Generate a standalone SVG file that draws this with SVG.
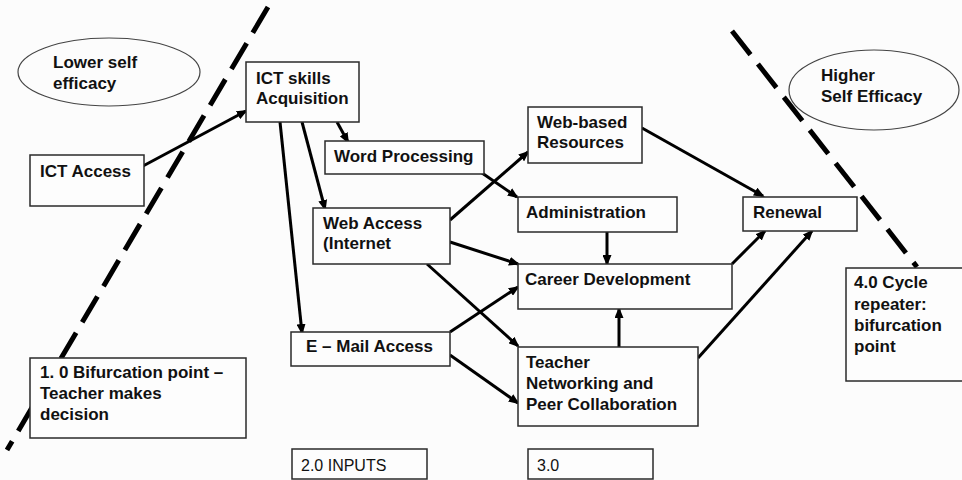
<svg xmlns="http://www.w3.org/2000/svg" width="962" height="480" viewBox="0 0 962 480">
<style>
.bg{fill:#fcfcfc}
.box{fill:#fdfdfd;stroke:#2a2a2a;stroke-width:1.5}
.ell{fill:none;stroke:#444;stroke-width:1.2}
.t{font-family:"Liberation Sans",Arial,sans-serif;font-size:17px;font-weight:bold;fill:#111}
.r{font-family:"Liberation Sans",Arial,sans-serif;font-size:16px;fill:#111}
.dash{stroke:#000;stroke-width:5;stroke-dasharray:30 12;fill:none}
.ar{stroke:#000;stroke-width:3;fill:none;marker-end:url(#ah)}
</style>
<defs>
<marker id="ah" markerWidth="11" markerHeight="9" refX="9" refY="4.5" orient="auto" markerUnits="userSpaceOnUse">
<path d="M0,0 L11,4.5 L0,9 z" fill="#000"/>
</marker>
</defs>
<rect class="bg" x="0" y="0" width="962" height="480"/>
<g id="dividers">
<line class="dash" x1="268" y1="7" x2="7" y2="450"/>
<line class="dash" x1="732" y1="31" x2="917" y2="267"/>
</g>
<g id="lower-self-efficacy">
<ellipse class="ell" cx="109" cy="72" rx="91" ry="34"/>
<text class="t" x="53" y="68">Lower self</text>
<text class="t" x="53" y="89">efficacy</text>
</g>
<g id="higher-self-efficacy">
<ellipse class="ell" cx="874" cy="90" rx="85" ry="40"/>
<text class="t" x="821" y="81">Higher</text>
<text class="t" x="821" y="102">Self Efficacy</text>
</g>
<g id="connectors">
<line class="ar" x1="143" y1="166" x2="246" y2="111"/>
<line class="ar" x1="337" y1="122" x2="348" y2="142"/>
<line class="ar" x1="302" y1="122" x2="325" y2="209"/>
<line class="ar" x1="280" y1="122" x2="302" y2="333"/>
<line class="ar" x1="482" y1="173" x2="517" y2="197"/>
<line class="ar" x1="450" y1="220" x2="528" y2="152"/>
<line class="ar" x1="450" y1="242" x2="518" y2="264"/>
<line class="ar" x1="427" y1="264" x2="518" y2="346"/>
<line class="ar" x1="607" y1="232" x2="607" y2="264"/>
<line class="ar" x1="450" y1="332" x2="518" y2="287"/>
<line class="ar" x1="450" y1="355" x2="518" y2="403"/>
<line class="ar" x1="619" y1="347" x2="619" y2="309"/>
<line class="ar" x1="698" y1="358" x2="812" y2="231"/>
<line class="ar" x1="732" y1="264" x2="765" y2="231"/>
<line class="ar" x1="642" y1="128" x2="763" y2="196"/>
</g>
<g id="ict-access">
<rect class="box" x="30" y="155" width="114" height="51"/>
<text class="t" x="40" y="177">ICT Access</text>
</g>
<g id="ict-skills">
<rect class="box" x="246" y="62" width="113" height="60"/>
<text class="t" x="256" y="84">ICT skills</text>
<text class="t" x="256" y="104">Acquisition</text>
</g>
<g id="word-processing">
<rect class="box" x="325" y="141" width="159" height="33"/>
<text class="t" x="334" y="162">Word Processing</text>
</g>
<g id="web-access">
<rect class="box" x="313" y="208" width="137" height="56"/>
<text class="t" x="323" y="229">Web Access</text>
<text class="t" x="323" y="249">(Internet</text>
</g>
<g id="email-access">
<rect class="box" x="291" y="332" width="159" height="34"/>
<text class="t" x="306" y="352">E – Mail Access</text>
</g>
<g id="web-based-resources">
<rect class="box" x="528" y="107" width="114" height="56"/>
<text class="t" x="537" y="128">Web-based</text>
<text class="t" x="537" y="148">Resources</text>
</g>
<g id="administration">
<rect class="box" x="518" y="197" width="159" height="35"/>
<text class="t" x="526" y="218">Administration</text>
</g>
<g id="career-development">
<rect class="box" x="518" y="264" width="214" height="45"/>
<text class="t" x="525" y="285">Career Development</text>
</g>
<g id="teacher-networking">
<rect class="box" x="518" y="347" width="180" height="79"/>
<text class="t" x="526" y="368">Teacher</text>
<text class="t" x="526" y="389">Networking and</text>
<text class="t" x="526" y="410">Peer Collaboration</text>
</g>
<g id="renewal">
<rect class="box" x="743" y="197" width="114" height="34"/>
<text class="t" x="753" y="218">Renewal</text>
</g>
<g id="cycle-repeater">
<rect class="box" x="846" y="268" width="118" height="113"/>
<text class="t" x="854" y="288">4.0 Cycle</text>
<text class="t" x="854" y="310">repeater:</text>
<text class="t" x="854" y="331">bifurcation</text>
<text class="t" x="854" y="352">point</text>
</g>
<g id="bifurcation-point">
<rect class="box" x="30" y="358" width="216" height="80"/>
<text class="t" x="40" y="378">1. 0 Bifurcation point –</text>
<text class="t" x="40" y="399">Teacher makes</text>
<text class="t" x="40" y="420">decision</text>
</g>
<g id="inputs">
<rect class="box" x="292" y="449" width="135" height="30"/>
<text class="r" x="301" y="471">2.0 INPUTS</text>
</g>
<g id="stage-3">
<rect class="box" x="528" y="449" width="125" height="30"/>
<text class="r" x="537" y="471">3.0</text>
</g>
</svg>
